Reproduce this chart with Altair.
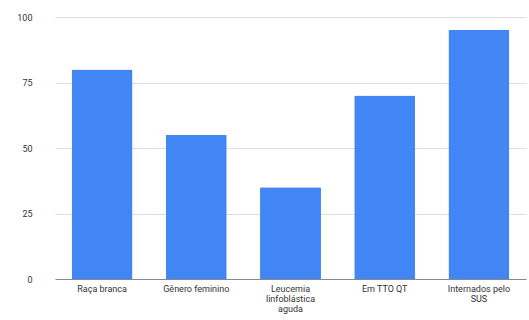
import altair as alt
import pandas as pd

categories = ["Raça branca", "Gênero feminino", "Leucemia|linfoblástica|aguda", "Em TTO QT", "Internados pelo|SUS"]
values = [80, 55, 35, 70, 95]
y_ticks = [0, 25, 50, 75, 100]

df = pd.DataFrame({"cat": categories, "val": values})

chart = alt.Chart(df).mark_bar(color="#4285F4", cornerRadiusTopLeft=1, cornerRadiusTopRight=1).encode(
    x=alt.X("cat:N", sort=categories, title=None,
            scale=alt.Scale(range=[17, 488], paddingInner=0.353, paddingOuter=0.1765),
            axis=alt.Axis(labelAngle=0, labelExpr="split(datum.label, '|')", labelFontSize=9,
                          labelColor="#333", labelFont="Roboto", ticks=False, domainColor="#888",
                          domainWidth=1, labelPadding=5, labelLineHeight=10, labelBaseline="top")),
    y=alt.Y("val:Q", title=None, scale=alt.Scale(domain=[0, 100], nice=False),
            axis=alt.Axis(values=y_ticks, labelFontSize=9, labelColor="#333", labelFont="Roboto",
                          domain=False, ticks=False, gridColor="#dddddd", labelPadding=6)),
).properties(
    width=491, height=262,
    autosize=alt.AutoSizeParams(type="none"),
    padding={"left": 38, "top": 17, "right": 0, "bottom": 41},
).configure_view(stroke=None)

chart.save("out.html", embed_options={"renderer": "svg", "actions": False})
